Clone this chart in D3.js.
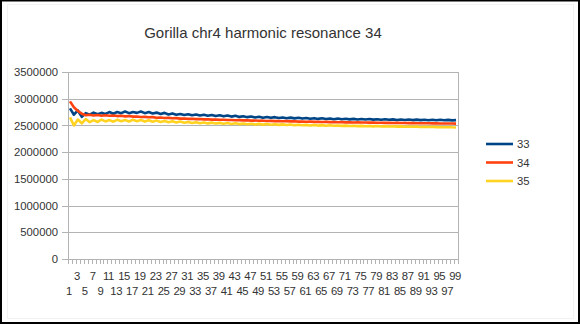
<!DOCTYPE html>
<html>
<head>
<meta charset="utf-8">
<script src="https://cdn.jsdelivr.net/npm/d3@7"></script>
<style>
  html, body { margin: 0; padding: 0; background: #fff; }
  svg { display: block; font-family: "Liberation Sans", Arial, sans-serif; }
</style>
</head>
<body>
<svg id="chart" width="580" height="324"></svg>
<script>
const title = "Gorilla chr4 harmonic resonance 34";
const categories = d3.range(1, 100);
const seriesNames = ["33", "34", "35"];
const yTicks = [0, 500000, 1000000, 1500000, 2000000, 2500000, 3000000, 3500000];

const s33 = [
  2820000, 2700000, 2780000, 2660000, 2730000, 2700000, 2740000, 2710000, 2735000, 2715000,
  2750000, 2720000, 2750000, 2730000, 2760000, 2730000, 2750000, 2735000, 2760000, 2730000,
  2750000, 2725000, 2740000, 2715000, 2735000, 2705000, 2725000, 2700000, 2715000, 2695000,
  2710000, 2690000, 2705000, 2685000, 2700000, 2680000, 2695000, 2675000, 2690000, 2670000,
  2685000, 2665000, 2680000, 2660000, 2672000, 2655000, 2668000, 2650000, 2662000, 2645000,
  2658000, 2642000, 2655000, 2638000, 2650000, 2635000, 2646000, 2632000, 2643000, 2628000,
  2640000, 2625000, 2636000, 2622000, 2633000, 2620000, 2630000, 2617000, 2628000, 2615000,
  2625000, 2613000, 2623000, 2611000, 2621000, 2610000, 2619000, 2608000, 2617000, 2606000,
  2615000, 2605000, 2613000, 2603000, 2612000, 2602000, 2610000, 2600000, 2609000, 2599000,
  2607000, 2598000, 2606000, 2597000, 2605000, 2596000, 2604000, 2595000, 2600000
];
const s34 = [
  2950000, 2840000, 2770000, 2720000, 2690000, 2700000, 2685000, 2695000, 2680000, 2690000,
  2680000, 2685000, 2675000, 2680000, 2670000, 2675000, 2665000, 2668000, 2658000, 2660000,
  2652000, 2655000, 2645000, 2648000, 2640000, 2642000, 2634000, 2636000, 2628000, 2630000,
  2623000, 2625000, 2618000, 2620000, 2613000, 2615000, 2609000, 2611000, 2605000, 2607000,
  2601000, 2603000, 2597000, 2599000, 2594000, 2596000, 2590000, 2592000, 2587000, 2589000,
  2584000, 2586000, 2581000, 2583000, 2578000, 2580000, 2575000, 2577000, 2572000, 2574000,
  2570000, 2571000, 2567000, 2569000, 2565000, 2566000, 2562000, 2564000, 2560000, 2561000,
  2558000, 2559000, 2556000, 2557000, 2554000, 2555000, 2552000, 2553000, 2550000, 2551000,
  2548000, 2549000, 2546000, 2547000, 2545000, 2545000, 2543000, 2544000, 2541000, 2542000,
  2540000, 2540000, 2538000, 2539000, 2537000, 2537000, 2535000, 2536000, 2534000
];
const s35 = [
  2650000, 2500000, 2610000, 2540000, 2620000, 2560000, 2600000, 2565000, 2610000, 2575000,
  2600000, 2570000, 2605000, 2580000, 2600000, 2575000, 2605000, 2580000, 2600000, 2572000,
  2595000, 2570000, 2590000, 2565000, 2585000, 2560000, 2578000, 2555000, 2572000, 2550000,
  2566000, 2546000, 2561000, 2542000, 2556000, 2538000, 2552000, 2535000, 2548000, 2531000,
  2544000, 2528000, 2540000, 2525000, 2536000, 2521000, 2532000, 2518000, 2529000, 2515000,
  2526000, 2512000, 2523000, 2510000, 2520000, 2507000, 2517000, 2505000, 2514000, 2502000,
  2511000, 2500000, 2508000, 2497000, 2505000, 2495000, 2502000, 2493000, 2500000, 2491000,
  2497000, 2489000, 2495000, 2487000, 2492000, 2485000, 2490000, 2483000, 2488000, 2481000,
  2486000, 2479000, 2484000, 2477000, 2482000, 2476000, 2480000, 2474000, 2478000, 2472000,
  2476000, 2470000, 2474000, 2468000, 2472000, 2466000, 2470000, 2465000, 2462000
];
const seriesValues = [s33, s34, s35];
const colors = ["#004586", "#ff420e", "#ffd320"];

(function () {
const svg = d3.select("#chart");
const W = 580, H = 324;
const pLeft = 68, pRight = 458, pTop = 72, pBottom = 259;
const textColor = "#333333";
const gridColor = "#b3b3b3";

// outer frame
svg.append("rect").attr("x", 0).attr("y", 0).attr("width", W).attr("height", H).attr("fill", "#fff");
svg.append("rect").attr("x", 7.5).attr("y", 4.5).attr("width", W - 14).attr("height", H - 10)
  .attr("fill", "none").attr("stroke", "#f2f2f2").attr("stroke-width", 1);
svg.append("rect").attr("x", 1).attr("y", 0.5).attr("width", W - 2).attr("height", H - 1.5)
  .attr("fill", "none").attr("stroke", "#000").attr("stroke-width", 2);

const x = d3.scaleBand().domain(categories).range([pLeft, pRight]).paddingInner(0).paddingOuter(0);
const y = d3.scaleLinear().domain([0, 3500000]).range([pBottom, pTop]);

// title
svg.append("text").attr("x", 263).attr("y", 38).attr("text-anchor", "middle")
  .attr("font-size", 15).attr("fill", textColor).text(title);

// gridlines + y axis
const yAxis = d3.axisLeft(y).tickValues(yTicks).tickSize(pRight - pLeft + 6).tickPadding(4)
  .tickFormat(d3.format("d"));
const yg = svg.append("g").attr("transform", `translate(${pRight},0)`).call(yAxis);
yg.select(".domain").remove();
yg.selectAll(".tick line").attr("stroke", gridColor).attr("shape-rendering", "crispEdges");
yg.selectAll(".tick text").attr("fill", textColor).attr("font-size", 11.3)
  .attr("font-family", "Liberation Sans, Arial, sans-serif");

// vertical axis lines
svg.append("line").attr("x1", pLeft).attr("x2", pLeft).attr("y1", pTop).attr("y2", pBottom)
  .attr("stroke", gridColor).attr("shape-rendering", "crispEdges");
svg.append("line").attr("x1", pRight).attr("x2", pRight).attr("y1", pTop).attr("y2", pBottom)
  .attr("stroke", gridColor).attr("shape-rendering", "crispEdges");

// x axis: ticks at category boundaries
const boundaries = categories.map(c => x(c)).concat([pRight]);
svg.append("g").selectAll("line").data(boundaries).join("line")
  .attr("x1", d => Math.round(d) + 0.5).attr("x2", d => Math.round(d) + 0.5)
  .attr("y1", pBottom).attr("y2", pBottom + 5)
  .attr("stroke", gridColor).attr("stroke-width", 1);
svg.append("line").attr("x1", pLeft).attr("x2", pRight).attr("y1", pBottom + 0.5).attr("y2", pBottom + 0.5)
  .attr("stroke", gridColor);

// x labels (odd, staggered)
const labelCats = categories.filter(c => c % 2 === 1);
svg.append("g").selectAll("text").data(labelCats).join("text")
  .attr("x", d => x(d) + x.bandwidth() / 2 - 1)
  .attr("y", d => (d % 4 === 3) ? 279.5 : 294.5)
  .attr("text-anchor", "middle")
  .attr("font-size", 11.3)
  .attr("letter-spacing", -0.4)
  .attr("fill", textColor)
  .text(d => d);

// lines
const line = d3.line()
  .x((d, i) => x(categories[i]) + x.bandwidth() / 2)
  .y(d => y(d));
seriesValues.forEach((vals, k) => {
  svg.append("path").datum(vals).attr("d", line)
    .attr("fill", "none").attr("stroke", colors[k]).attr("stroke-width", 2.6)
    .attr("stroke-linejoin", "round");
});

// legend
const legY = [144, 162.5, 181];
seriesNames.forEach((name, k) => {
  svg.append("line").attr("x1", 486).attr("x2", 513).attr("y1", legY[k]).attr("y2", legY[k])
    .attr("stroke", colors[k]).attr("stroke-width", 2.6);
  svg.append("text").attr("x", 517).attr("y", legY[k] + 4).attr("font-size", 11.3)
    .attr("fill", textColor).text(name);
});
})();
</script>
</body>
</html>
